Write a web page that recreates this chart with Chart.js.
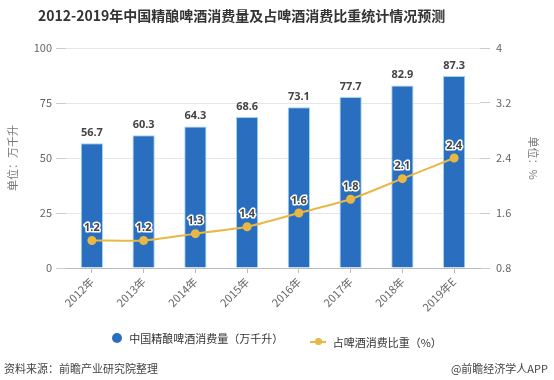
<!DOCTYPE html>
<html>
<head>
<meta charset="utf-8">
<script src="https://cdn.jsdelivr.net/npm/chart.js@4.4.1/dist/chart.umd.min.js"></script>
<style>
  html, body { margin: 0; padding: 0; background: #fff; }
  body { width: 554px; height: 380px; position: relative; overflow: hidden;
         font-family: "Noto Sans CJK SC", "Noto Sans", sans-serif; }
  #wrap { position: absolute; left: 0; top: 0; width: 554px; height: 380px; }
  .title { position: absolute; left: 38px; top: 5px; font-size: 14px; font-weight: bold; color: #333; }
  .legend { position: absolute; top: 330px; left: 0; width: 554px; text-align: center; font-size: 11px; color: #333; }
  .legend span.item { display: inline-flex; align-items: center; margin: 0 12px; }
  .dot { width: 10px; height: 10px; border-radius: 50%; background: #2a6fbf; margin-right: 7px; }
  .ln { position: relative; width: 16px; height: 2px; background: #e9b844; margin-right: 7px; }
  .ln::after { content: ""; position: absolute; left: 5px; top: -3px; width: 7px; height: 7px; border-radius: 50%; background: #e9b844; }
  .src { position: absolute; left: 4px; top: 360px; font-size: 11px; color: #444; }
  .app { position: absolute; right: 6px; top: 360px; font-size: 11px; color: #444; }
</style>
</head>
<body>
<div id="wrap"><canvas id="c" width="554" height="380"></canvas></div>
<div class="title">2012-2019年中国精酿啤酒消费量及占啤酒消费比重统计情况预测</div>
<div class="legend">
  <span class="item"><span class="dot"></span>中国精酿啤酒消费量（万千升）</span>
  <span class="item"><span class="ln"></span>占啤酒消费比重（%）</span>
</div>
<div class="src">资料来源：前瞻产业研究院整理</div>
<div class="app">@前瞻经济学人APP</div>
<script>
const years = ['2012年', '2013年', '2014年', '2015年', '2016年', '2017年', '2018年', '2019年E'];
const consumption = [56.7, 60.3, 64.3, 68.6, 73.1, 77.7, 82.9, 87.3];
const share = [1.2, 1.2, 1.3, 1.4, 1.6, 1.8, 2.1, 2.4];
const leftTicks = [0, 25, 50, 75, 100];
const rightTicks = [0.8, 1.6, 2.4, 3.2, 4];

const valueLabels = {
  id: 'valueLabels',
  afterDatasetsDraw(chart) {
    const ctx = chart.ctx;
    ctx.save();
    ctx.textAlign = 'center';
    ctx.textBaseline = 'bottom';
    ctx.font = 'bold 11px "Noto Sans", sans-serif';
    chart.getDatasetMeta(0).data.forEach((bar, i) => {
      ctx.fillStyle = '#444';
      ctx.fillText(consumption[i].toFixed(1), bar.x, bar.y - 5);
    });
    chart.getDatasetMeta(1).data.forEach((pt, i) => {
      ctx.lineWidth = 3;
      ctx.strokeStyle = '#fff';
      ctx.lineJoin = 'round';
      ctx.strokeText(share[i].toFixed(1), pt.x, pt.y - 7);
      ctx.fillStyle = '#444';
      ctx.fillText(share[i].toFixed(1), pt.x, pt.y - 7);
    });
    ctx.restore();
  }
};

Chart.defaults.font.family = '"Noto Sans CJK SC", "Noto Sans", sans-serif';
Chart.defaults.font.size = 11;
Chart.defaults.color = '#666';

new Chart(document.getElementById('c'), {
  type: 'bar',
  data: {
    labels: years,
    datasets: [
      {
        type: 'bar',
        data: consumption,
        backgroundColor: '#2a6fbf',
        borderColor: '#9fd6ef',
        borderWidth: 1,
        barPercentage: 0.43,
        categoryPercentage: 1,
        yAxisID: 'y',
        order: 2,
      },
      {
        type: 'line',
        data: share,
        borderColor: '#e9b844',
        backgroundColor: '#e9b844',
        borderWidth: 2,
        pointRadius: 3.5,
        pointBackgroundColor: '#e9b844',
        pointBorderColor: '#e9b844',
        tension: 0.2,
        yAxisID: 'y1',
        order: 1,
      },
    ],
  },
  options: {
    responsive: false,
    animation: false,
    layout: { padding: { top: 48, left: 6, right: 0, bottom: 0 } },
    plugins: { legend: { display: false }, tooltip: { enabled: false } },
    scales: {
      x: {
        grid: { display: true, drawOnChartArea: false, offset: false, tickLength: 5, color: '#bbb' },
        border: { color: '#bbb' },
        ticks: { maxRotation: 45, minRotation: 45, color: '#666', padding: 2 },
        afterFit: (s) => { s.height = 112; },
      },
      y: {
        position: 'left',
        min: 0, max: 100,
        afterBuildTicks: (s) => { s.ticks = leftTicks.map((v) => ({ value: v })); },
        grid: { color: '#e6e6e6', tickLength: 10, tickColor: '#ccc' },
        border: { display: false },
        ticks: { padding: 4, color: '#666' },
        title: { display: true, text: '单位：万千升', color: '#777', font: { size: 11 }, padding: 0 },
        afterFit: (s) => { s.width = 60; },
      },
      y1: {
        position: 'right',
        min: 0.8, max: 4,
        afterBuildTicks: (s) => { s.ticks = rightTicks.map((v) => ({ value: v })); },
        grid: { drawOnChartArea: false, tickLength: 10, tickColor: '#ccc' },
        border: { display: false },
        ticks: { padding: 6, color: '#666', callback: (v) => String(Math.round(v * 10) / 10) },
        title: { display: true, text: '单位：%', color: '#777', font: { size: 11 }, padding: { top: 14 } },
        afterFit: (s) => { s.width = 74; },
      },
    },
  },
  plugins: [valueLabels],
});
</script>
</body>
</html>
